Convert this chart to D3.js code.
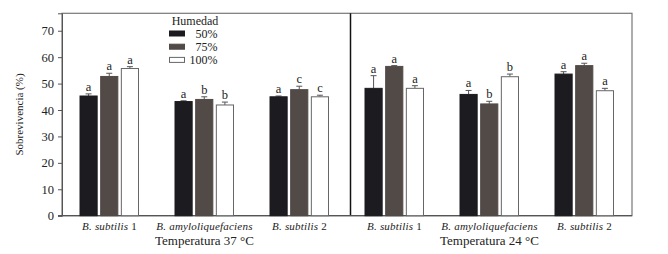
<!DOCTYPE html>
<html>
<head>
<meta charset="utf-8">
<script src="https://cdn.jsdelivr.net/npm/d3@7"></script>
<style>
  body { margin: 0; background: #fff; }
  text { font-family: "Liberation Serif", "Times New Roman", serif; fill: #222; }
</style>
</head>
<body>
<div id="chart-area"></div>
<script>
var width = 668,
    height = 254;

// data
var groups = ["37-Bs1", "37-Bam", "37-Bs2", "24-Bs1", "24-Bam", "24-Bs2"];
var groupNames = ["B. subtilis", "B. amyloliquefaciens", "B. subtilis",
                  "B. subtilis", "B. amyloliquefaciens", "B. subtilis"];
var groupNums = [" 1", "", " 2", " 1", "", " 2"];
var series = ["50%", "75%", "100%"];
var panels = ["Temperatura 37 °C", "Temperatura 24 °C"];
var yTicks = [0, 10, 20, 30, 40, 50, 60, 70];

var h50  = [45.3, 43.2, 45.0, 48.2, 45.9, 53.6];
var h75  = [52.7, 44.0, 47.7, 56.5, 42.3, 56.8];
var h100 = [55.7, 41.9, 45.0, 48.2, 52.6, 47.3];

var e50  = [0.8, 0.3, 0.3, 4.8, 1.5, 0.9];
var e75  = [1.2, 1.0, 1.3, 0.3, 1.0, 0.9];
var e100 = [0.7, 1.1, 0.6, 1.0, 1.0, 0.9];

var l50  = ["a", "a", "a", "a", "a", "a"];
var l75  = ["a", "b", "c", "a", "b", "a"];
var l100 = ["a", "b", "c", "a", "b", "a"];

var colors = ["#1c1b1f", "#514a47", "#ffffff"];

var values = [h50, h75, h100], errors = [e50, e75, e100], letters = [l50, l75, l100];

var svg = d3.select("#chart-area").append("svg")
    .attr("width", width)
    .attr("height", height);

var mLeft = 62, mRight = 632, mTop = 13.3, mBottom = 215.7;

var x0 = d3.scaleBand().domain(groups).range([mLeft, mRight]);
var x1 = d3.scaleBand().domain(series).range([18, 76.5]).paddingInner(0.17);
var y = d3.scaleLinear().domain([0, 76.6]).range([mBottom, mTop]);

// flatten
var bars = [];
groups.forEach(function(g, gi) {
    series.forEach(function(s, si) {
        bars.push({ g: g, s: s, si: si, v: values[si][gi], e: errors[si][gi], l: letters[si][gi] });
    });
});

// frame
svg.append("rect")
    .attr("x", mLeft).attr("y", mTop)
    .attr("width", mRight - mLeft).attr("height", mBottom - mTop)
    .attr("fill", "none").attr("stroke", "#777").attr("stroke-width", 1.2);

// divider
svg.append("line")
    .attr("x1", x0(groups[3]) + 3.5).attr("x2", x0(groups[3]) + 3.5)
    .attr("y1", mTop).attr("y2", mBottom)
    .attr("stroke", "#111").attr("stroke-width", 1.5);

// y axis
var yAxis = svg.append("g")
    .attr("transform", "translate(" + mLeft + ",0)")
    .call(d3.axisLeft(y).tickValues(yTicks).tickSize(4).tickPadding(4));
yAxis.select(".domain").attr("stroke", "#555");
yAxis.selectAll(".tick line").attr("stroke", "#555");
yAxis.selectAll("text").style("font-size", "12.5px")
    .style("font-family", "Liberation Serif").attr("fill", "#222");

// bottom line extends slightly left
svg.append("line")
    .attr("x1", mLeft - 4).attr("x2", mRight)
    .attr("y1", mBottom).attr("y2", mBottom)
    .attr("stroke", "#555").attr("stroke-width", 1.2);

// bars
var g = svg.selectAll(".bar")
    .data(bars)
    .enter().append("g")
    .attr("class", "bar");

g.append("line")
    .attr("x1", d => x0(d.g) + x1(d.s) + x1.bandwidth() / 2)
    .attr("x2", d => x0(d.g) + x1(d.s) + x1.bandwidth() / 2)
    .attr("y1", d => y(d.v))
    .attr("y2", d => y(d.v + d.e))
    .attr("stroke", "#555").attr("stroke-width", 1);

g.append("line")
    .attr("x1", d => x0(d.g) + x1(d.s) + x1.bandwidth() / 2 - 3)
    .attr("x2", d => x0(d.g) + x1(d.s) + x1.bandwidth() / 2 + 3)
    .attr("y1", d => y(d.v + d.e))
    .attr("y2", d => y(d.v + d.e))
    .attr("stroke", "#555").attr("stroke-width", 1);

g.append("rect")
    .attr("x", d => x0(d.g) + x1(d.s))
    .attr("y", d => y(d.v))
    .attr("width", x1.bandwidth())
    .attr("height", d => y(0) - y(d.v))
    .attr("fill", d => colors[d.si])
    .attr("stroke", d => d.si == 2 ? "#666" : colors[d.si])
    .attr("stroke-width", 1);

g.append("text")
    .attr("x", d => x0(d.g) + x1(d.s) + x1.bandwidth() / 2)
    .attr("y", d => y(d.v + d.e) - 3)
    .attr("text-anchor", "middle")
    .style("font-size", "12.5px")
    .text(d => d.l);

// category labels (species italic, strain number upright)
var cats = svg.selectAll(".cat")
    .data(groups)
    .enter().append("text")
    .attr("class", "cat")
    .attr("x", d => x0(d) + x0.bandwidth() / 2)
    .attr("y", 230)
    .attr("text-anchor", "middle")
    .style("font-size", "11px")
    .style("letter-spacing", "0.2px");
cats.append("tspan").style("font-style", "italic").text((d, i) => groupNames[i]);
cats.append("tspan").text((d, i) => groupNums[i]);

// panel labels
svg.selectAll(".panel")
    .data(panels)
    .enter().append("text")
    .attr("class", "panel")
    .attr("x", (d, i) => x0(groups[i * 3 + 1]) + x0.bandwidth() / 2)
    .attr("y", 245)
    .attr("text-anchor", "middle")
    .style("font-size", "13px")
    .text(d => d);

// y label
svg.append("text")
    .attr("transform", "translate(23," + (mTop + mBottom) / 2 + ") rotate(-90)")
    .attr("text-anchor", "middle")
    .style("font-size", "11px")
    .text("Sobrevivencia (%)");

// legend
var legend = svg.append("g");
legend.append("text")
    .attr("x", 195).attr("y", 24.5)
    .attr("text-anchor", "middle")
    .style("font-size", "12px")
    .text("Humedad");

var items = legend.selectAll(".item")
    .data(series)
    .enter().append("g")
    .attr("class", "item")
    .attr("transform", (d, i) => "translate(0," + (33.5 + i * 13.2) + ")");

items.append("rect")
    .attr("x", 169.5).attr("y", -2.5)
    .attr("width", 15).attr("height", 5)
    .attr("fill", (d, i) => colors[i])
    .attr("stroke", (d, i) => i == 2 ? "#666" : colors[i]);

items.append("text")
    .attr("x", 217.5).attr("y", 4)
    .attr("text-anchor", "end")
    .style("font-size", "12px")
    .text(d => d);
</script>
</body>
</html>
